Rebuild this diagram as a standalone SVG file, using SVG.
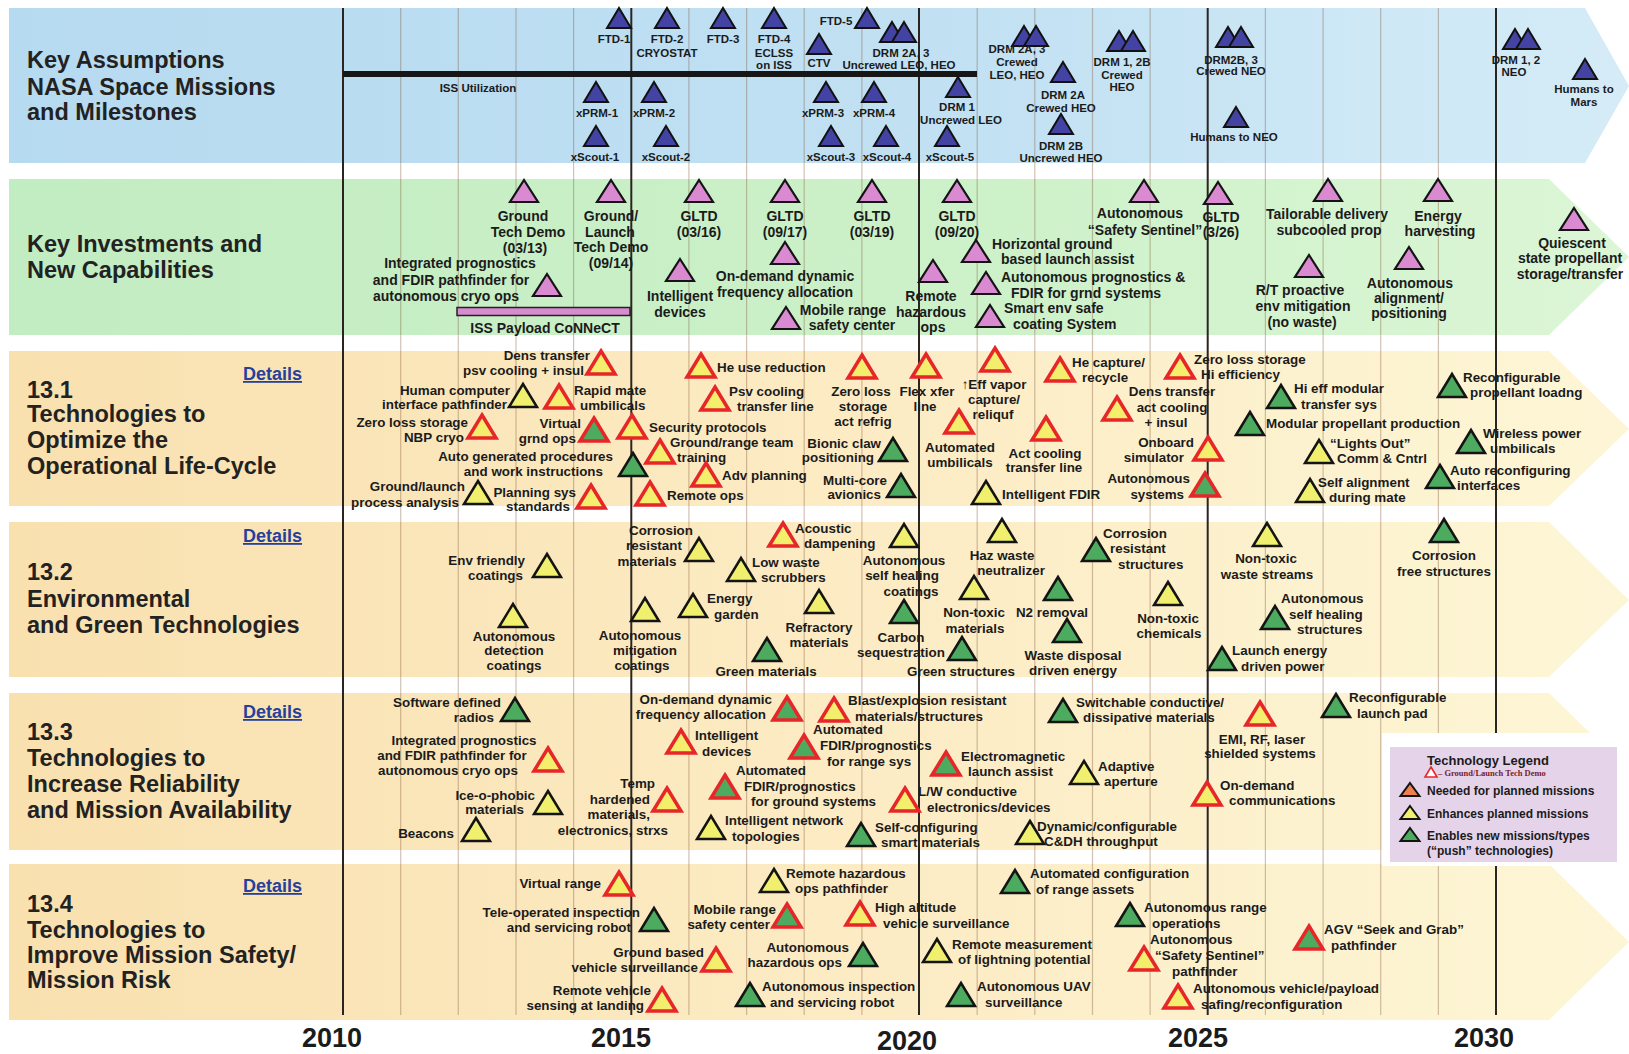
<svg xmlns="http://www.w3.org/2000/svg" xmlns:xlink="http://www.w3.org/1999/xlink" width="1629" height="1054" viewBox="0 0 1629 1054">
<defs>
  <linearGradient id="gBlue" x1="0" y1="0" x2="1" y2="0">
    <stop offset="0" stop-color="#b6daf0"/><stop offset="0.6" stop-color="#c2e1f3"/><stop offset="1" stop-color="#d5ecf7"/>
  </linearGradient>
  <linearGradient id="gGreen" x1="0" y1="0" x2="1" y2="0">
    <stop offset="0" stop-color="#c2ecc2"/><stop offset="0.6" stop-color="#cdf1c9"/><stop offset="1" stop-color="#dcf6d6"/>
  </linearGradient>
  <linearGradient id="gTan" x1="0" y1="0" x2="1" y2="0">
    <stop offset="0" stop-color="#f9e0af"/><stop offset="0.5" stop-color="#fcebc3"/><stop offset="1" stop-color="#fdf6d6"/>
  </linearGradient>
  <!-- marker shapes: base centred on (0,0), apex up -->
  <path id="tt" d="M0,-23 L14,0 L-14,0 Z"/>
  <path id="tb" d="M0,-20 L12,0 L-12,0 Z"/>
  <path id="tp" d="M0,-22 L14,0 L-14,0 Z"/>
  <path id="tl" d="M0,-13 L9.5,0 L-9.5,0 Z"/>
</defs>
<style>
  .t{font-family:'Liberation Sans',Arial,Helvetica,sans-serif;font-weight:bold;font-size:13.4px;fill:#1b1b1b}
  .s{font-size:11.5px}
  .p{font-size:14px}
  .e{text-anchor:end}
  .m{text-anchor:middle}
  .ttl{font-size:23.5px;fill:#222}
  .yr{font-size:27px;text-anchor:middle}
  .dt{font-size:18px;fill:#24419b;text-decoration:underline}
  .lg{font-size:12px}
  .ry{fill:#f3ee6b;stroke:#e62629;stroke-width:3.5}
  .rg{fill:#4dab60;stroke:#e62629;stroke-width:3.5}
  .yb{fill:#f1ef6e;stroke:#141414;stroke-width:2.5}
  .gb{fill:#4dab60;stroke:#141414;stroke-width:2.5}
  .bl{fill:#4343a3;stroke:#111;stroke-width:2}
  .pk{fill:#d98ad1;stroke:#141414;stroke-width:2.2}
  .thin{stroke:#7a5030;stroke-opacity:0.35;stroke-width:1.2}
  .main{stroke:#2b2521;stroke-width:2}
</style>
<rect width="1629" height="1054" fill="#ffffff"/>

<!-- swim-lane bands -->
<g id="bands">
  <path d="M9,8 H1585 L1629,86 L1585,163 H9 Z" fill="url(#gBlue)"/>
  <path d="M9,179 H1549 L1629,257 L1549,335 H9 Z" fill="url(#gGreen)"/>
  <path d="M9,351 H1549 L1629,429 L1549,506 H9 Z" fill="url(#gTan)"/>
  <path d="M9,522 H1549 L1629,600 L1549,677 H9 Z" fill="url(#gTan)"/>
  <path d="M9,693 H1549 L1629,771 L1549,850 H9 Z" fill="url(#gTan)"/>
  <path d="M9,864 H1549 L1629,942 L1549,1020 H9 Z" fill="url(#gTan)"/>
</g>

<!-- year grid -->
<g id="timeline-grid">
  <g class="thin">
    <line x1="400.7" y1="8" x2="400.7" y2="1015"/><line x1="458.3" y1="8" x2="458.3" y2="1015"/>
    <line x1="516" y1="8" x2="516" y2="1015"/><line x1="573.6" y1="8" x2="573.6" y2="1015"/>
    <line x1="688.9" y1="8" x2="688.9" y2="1015"/><line x1="746.6" y1="8" x2="746.6" y2="1015"/>
    <line x1="804.2" y1="8" x2="804.2" y2="1015"/><line x1="861.9" y1="8" x2="861.9" y2="1015"/>
    <line x1="977.2" y1="8" x2="977.2" y2="1015"/><line x1="1034.8" y1="8" x2="1034.8" y2="1015"/>
    <line x1="1092.5" y1="8" x2="1092.5" y2="1015"/><line x1="1150.1" y1="8" x2="1150.1" y2="1015"/>
    <line x1="1265.4" y1="8" x2="1265.4" y2="1015"/><line x1="1323.1" y1="8" x2="1323.1" y2="1015"/>
    <line x1="1380.7" y1="8" x2="1380.7" y2="1015"/><line x1="1438.4" y1="8" x2="1438.4" y2="1015"/>
  </g>
  <g class="main">
    <line x1="343" y1="8" x2="343" y2="1015"/><line x1="631.3" y1="8" x2="631.3" y2="1015"/>
    <line x1="919" y1="8" x2="919" y2="1015"/><line x1="1207.7" y1="8" x2="1207.7" y2="1015"/>
    <line x1="1496" y1="8" x2="1496" y2="1015"/>
  </g>
</g>

<!-- row titles -->
<g id="row-titles" class="t ttl">
  <text x="27" y="68">Key Assumptions</text>
  <text x="27" y="95">NASA Space Missions</text>
  <text x="27" y="120">and Milestones</text>
  <text x="27" y="252">Key Investments and</text>
  <text x="27" y="278">New Capabilities</text>
  <text x="27" y="398">13.1</text>
  <text x="27" y="422">Technologies  to</text>
  <text x="27" y="448">Optimize the</text>
  <text x="27" y="474">Operational Life-Cycle</text>
  <text x="27" y="580">13.2</text>
  <text x="27" y="607">Environmental</text>
  <text x="27" y="633">and Green Technologies</text>
  <text x="27" y="740">13.3</text>
  <text x="27" y="766">Technologies to</text>
  <text x="27" y="792">Increase Reliability</text>
  <text x="27" y="818">and Mission Availability</text>
  <text x="27" y="912">13.4</text>
  <text x="27" y="938">Technologies to</text>
  <text x="27" y="963">Improve Mission Safety/</text>
  <text x="27" y="988">Mission Risk</text>
</g>
<g id="details-links" class="t dt">
  <text x="243" y="380">Details</text>
  <text x="243" y="542">Details</text>
  <text x="243" y="718">Details</text>
  <text x="243" y="892">Details</text>
</g>
<g id="year-labels" class="t yr">
  <text x="332" y="1047">2010</text>
  <text x="621" y="1047">2015</text>
  <text x="907" y="1050">2020</text>
  <text x="1198" y="1047">2025</text>
  <text x="1484" y="1047">2030</text>
</g>

<!-- missions and milestones -->
<g id="missions" class="t s m">
  <g id="iss-utilization"><line x1="343" y1="74" x2="977" y2="74" stroke="#161616" stroke-width="6"/><text x="478" y="92">ISS Utilization</text></g>
  <g id="ftd-1"><use href="#tb" class="bl" x="619" y="28"/><text x="614" y="43">FTD-1</text></g>
  <g id="ftd-2"><use href="#tb" class="bl" x="667" y="28"/><text x="667" y="43">FTD-2</text><text x="667" y="57">CRYOSTAT</text></g>
  <g id="ftd-3"><use href="#tb" class="bl" x="723" y="28"/><text x="723" y="43">FTD-3</text></g>
  <g id="ftd-4"><use href="#tb" class="bl" x="774" y="28"/><text x="774" y="43">FTD-4</text><text x="774" y="57">ECLSS</text><text x="774" y="69">on ISS</text></g>
  <g id="ftd-5"><use href="#tb" class="bl" x="867" y="28"/><text x="836" y="25">FTD-5</text></g>
  <g id="ctv"><use href="#tb" class="bl" x="819" y="54"/><text x="819" y="67">CTV</text></g>
  <g id="drm-2a3-uncrewed"><use href="#tb" class="bl" x="892" y="42"/><use href="#tb" class="bl" x="904" y="42"/><text x="901" y="57">DRM 2A, 3</text><text x="899" y="69">Uncrewed LEO, HEO</text></g>
  <g id="xprm-1"><use href="#tb" class="bl" x="596" y="102"/><text x="597" y="117">xPRM-1</text></g>
  <g id="xprm-2"><use href="#tb" class="bl" x="654" y="102"/><text x="654" y="117">xPRM-2</text></g>
  <g id="xprm-3"><use href="#tb" class="bl" x="826" y="102"/><text x="823" y="117">xPRM-3</text></g>
  <g id="xprm-4"><use href="#tb" class="bl" x="874" y="102"/><text x="874" y="117">xPRM-4</text></g>
  <g id="drm-1-uncrewed"><use href="#tb" class="bl" x="958" y="97"/><text x="957" y="111">DRM 1</text><text x="961" y="124">Uncrewed LEO</text></g>
  <g id="xscout-1"><use href="#tb" class="bl" x="596" y="146"/><text x="595" y="161">xScout-1</text></g>
  <g id="xscout-2"><use href="#tb" class="bl" x="666" y="146"/><text x="666" y="161">xScout-2</text></g>
  <g id="xscout-3"><use href="#tb" class="bl" x="831" y="146"/><text x="831" y="161">xScout-3</text></g>
  <g id="xscout-4"><use href="#tb" class="bl" x="886" y="146"/><text x="887" y="161">xScout-4</text></g>
  <g id="xscout-5"><use href="#tb" class="bl" x="947" y="146"/><text x="950" y="161">xScout-5</text></g>
  <g id="drm-2a3-crewed"><use href="#tb" class="bl" x="1024" y="46"/><use href="#tb" class="bl" x="1036" y="46"/><text x="1017" y="53">DRM 2A, 3</text><text x="1017" y="66">Crewed</text><text x="1017" y="79">LEO, HEO</text></g>
  <g id="drm-2a-crewed"><use href="#tb" class="bl" x="1063" y="82"/><text x="1063" y="99">DRM 2A</text><text x="1061" y="112">Crewed HEO</text></g>
  <g id="drm-2b-uncrewed"><use href="#tb" class="bl" x="1061" y="134"/><text x="1061" y="150">DRM 2B</text><text x="1061" y="162">Uncrewed HEO</text></g>
  <g id="drm-12b-crewed"><use href="#tb" class="bl" x="1119" y="51"/><use href="#tb" class="bl" x="1133" y="51"/><text x="1122" y="66">DRM 1, 2B</text><text x="1122" y="79">Crewed</text><text x="1122" y="91">HEO</text></g>
  <g id="drm-2b3-neo"><use href="#tb" class="bl" x="1228" y="47"/><use href="#tb" class="bl" x="1241" y="47"/><text x="1231" y="64">DRM2B, 3</text><text x="1231" y="75">Crewed NEO</text></g>
  <g id="humans-neo"><use href="#tb" class="bl" x="1236" y="127"/><text x="1234" y="141">Humans to NEO</text></g>
  <g id="drm-12-neo"><use href="#tb" class="bl" x="1515" y="49"/><use href="#tb" class="bl" x="1528" y="49"/><text x="1516" y="64">DRM 1, 2</text><text x="1514" y="76">NEO</text></g>
  <g id="humans-mars"><use href="#tb" class="bl" x="1585" y="79"/><text x="1584" y="93">Humans to</text><text x="1584" y="106">Mars</text></g>
</g>

<!-- key investments -->
<g id="investments" class="t p m">
  <g id="iss-payload-connect"><rect x="457" y="307.5" width="173" height="8" fill="#d78ccf" stroke="#222" stroke-width="1.5"/><text x="545" y="333">ISS Payload CoNNeCT</text></g>
  <g id="ground-tech-demo"><use href="#tp" class="pk" x="524" y="202"/><text x="523" y="221">Ground</text><text x="528" y="237">Tech Demo</text><text x="525" y="253">(03/13)</text></g>
  <g id="ground-launch-demo"><use href="#tp" class="pk" x="611" y="202"/><text x="611" y="221">Ground/</text><text x="610" y="237">Launch</text><text x="611" y="252">Tech Demo</text><text x="611" y="268">(09/14)</text></g>
  <g id="gltd-0316"><use href="#tp" class="pk" x="699" y="202"/><text x="699" y="221">GLTD</text><text x="699" y="237">(03/16)</text></g>
  <g id="gltd-0917"><use href="#tp" class="pk" x="785" y="202"/><text x="785" y="221">GLTD</text><text x="785" y="237">(09/17)</text></g>
  <g id="gltd-0319"><use href="#tp" class="pk" x="872" y="202"/><text x="872" y="221">GLTD</text><text x="872" y="237">(03/19)</text></g>
  <g id="gltd-0920"><use href="#tp" class="pk" x="957" y="202"/><text x="957" y="221">GLTD</text><text x="957" y="237">(09/20)</text></g>
  <g id="safety-sentinel"><use href="#tp" class="pk" x="1144" y="202"/><text x="1140" y="218">Autonomous</text><text x="1145" y="235">“Safety Sentinel”</text></g>
  <g id="gltd-0326"><use href="#tp" class="pk" x="1218" y="204"/><text x="1221" y="222">GLTD</text><text x="1221" y="237">(3/26)</text></g>
  <g id="tailorable-delivery"><use href="#tp" class="pk" x="1328" y="201"/><text x="1327" y="219">Tailorable delivery</text><text x="1329" y="235">subcooled prop</text></g>
  <g id="energy-harvesting"><use href="#tp" class="pk" x="1438" y="201"/><text x="1438" y="221">Energy</text><text x="1440" y="236">harvesting</text></g>
  <g id="quiescent-storage"><use href="#tp" class="pk" x="1574" y="230"/><text x="1572" y="248">Quiescent</text><text x="1570" y="263">state propellant</text><text x="1570" y="279">storage/transfer</text></g>
  <g id="integrated-prognostics"><use href="#tp" class="pk" x="547" y="296"/><text x="460" y="268">Integrated prognostics</text><text x="451" y="285">and FDIR pathfinder for</text><text x="446" y="301">autonomous cryo ops</text></g>
  <g id="intelligent-devices"><use href="#tp" class="pk" x="680" y="281"/><text x="680" y="301">Intelligent</text><text x="680" y="317">devices</text></g>
  <g id="on-demand-frequency"><use href="#tp" class="pk" x="785" y="264"/><text x="785" y="281">On-demand dynamic</text><text x="785" y="297">frequency allocation</text></g>
  <g id="mobile-range-center"><use href="#tp" class="pk" x="786" y="329"/><text x="843" y="315">Mobile range</text><text x="852" y="330">safety center</text></g>
  <g id="remote-hazardous-ops"><use href="#tp" class="pk" x="933" y="282"/><text x="931" y="301">Remote</text><text x="931" y="317">hazardous</text><text x="933" y="332">ops</text></g>
  <g id="horizontal-launch"><use href="#tp" class="pk" x="976" y="262"/><text x="992" y="249" style="text-anchor:start">Horizontal ground</text><text x="1001" y="264" style="text-anchor:start">based launch assist</text></g>
  <g id="auto-prognostics"><use href="#tp" class="pk" x="986" y="294"/><text x="1001" y="282" style="text-anchor:start">Autonomous prognostics &amp;</text><text x="1011" y="298" style="text-anchor:start">FDIR for grnd systems</text></g>
  <g id="smart-env-coating"><use href="#tp" class="pk" x="990" y="327"/><text x="1004" y="313" style="text-anchor:start">Smart env safe</text><text x="1013" y="329" style="text-anchor:start">coating System</text></g>
  <g id="rt-proactive"><use href="#tp" class="pk" x="1309" y="277"/><text x="1300" y="295">R/T proactive</text><text x="1303" y="311">env  mitigation</text><text x="1302" y="327">(no waste)</text></g>
  <g id="auto-alignment"><use href="#tp" class="pk" x="1409" y="269"/><text x="1410" y="288">Autonomous</text><text x="1409" y="303">alignment/</text><text x="1409" y="318">positioning</text></g>
</g>

<!-- 13.1 operational life-cycle -->
<g id="tech-13-1" class="t">
  <g id="dens-transfer-psv"><use href="#tt" class="ry" x="601" y="374"/><text class="e" x="590" y="360">Dens transfer</text><text class="e" x="584" y="375">psv cooling + insul</text></g>
  <g id="he-use-reduction"><use href="#tt" class="ry" x="701" y="377"/><text x="717" y="372">He use reduction</text></g>
  <g id="rapid-mate"><use href="#tt" class="ry" x="559" y="408"/><text x="574" y="395">Rapid mate</text><text x="580" y="410">umbilicals</text></g>
  <g id="psv-cooling-line"><use href="#tt" class="ry" x="715" y="410"/><text x="729" y="396">Psv cooling</text><text x="737" y="411">transfer line</text></g>
  <g id="zero-loss-refrig"><use href="#tt" class="ry" x="862" y="378"/><text class="m" x="861" y="396">Zero loss</text><text class="m" x="863" y="411">storage</text><text class="m" x="863" y="426">act refrig</text></g>
  <g id="flex-xfer"><use href="#tt" class="ry" x="926" y="377"/><text class="m" x="927" y="396">Flex xfer</text><text class="m" x="925" y="411">line</text></g>
  <g id="eff-vapor"><use href="#tt" class="ry" x="995" y="371"/><text class="m" x="994" y="389">↑Eff vapor</text><text class="m" x="994" y="404">capture/</text><text class="m" x="993" y="419">reliquf</text></g>
  <g id="he-capture"><use href="#tt" class="ry" x="1060" y="381"/><text x="1072" y="367">He capture/</text><text x="1082" y="382">recycle</text></g>
  <g id="security-protocols"><use href="#tt" class="ry" x="632" y="438"/><text x="649" y="432">Security protocols</text></g>
  <g id="virtual-grnd-ops"><use href="#tt" class="rg" x="594" y="441"/><text class="e" x="581" y="428">Virtual</text><text class="e" x="576" y="443">grnd ops</text></g>
  <g id="range-team-training"><use href="#tt" class="ry" x="660" y="463"/><text x="670" y="447">Ground/range team</text><text x="677" y="462">training</text></g>
  <g id="auto-procedures"><use href="#tt" class="gb" x="633" y="476"/><text class="e" x="613" y="461">Auto generated procedures</text><text class="e" x="603" y="476">and work instructions</text></g>
  <g id="adv-planning"><use href="#tt" class="ry" x="706" y="486"/><text x="722" y="480">Adv planning</text></g>
  <g id="remote-ops"><use href="#tt" class="ry" x="650" y="505"/><text x="667" y="500">Remote ops</text></g>
  <g id="planning-standards"><use href="#tt" class="ry" x="591" y="508"/><text class="e" x="576" y="497">Planning sys</text><text class="e" x="570" y="511">standards</text></g>
  <g id="bionic-claw"><use href="#tt" class="gb" x="893" y="461"/><text class="e" x="881" y="448">Bionic claw</text><text class="e" x="874" y="462">positioning</text></g>
  <g id="multi-core"><use href="#tt" class="gb" x="901" y="497"/><text class="e" x="887" y="485">Multi-core</text><text class="e" x="881" y="499">avionics</text></g>
  <g id="automated-umbilicals"><use href="#tt" class="ry" x="959" y="433"/><text class="m" x="960" y="452">Automated</text><text class="m" x="960" y="467">umbilicals</text></g>
  <g id="act-cooling-line"><use href="#tt" class="ry" x="1046" y="440"/><text class="m" x="1045" y="458">Act cooling</text><text class="m" x="1044" y="472">transfer line</text></g>
  <g id="intelligent-fdir"><use href="#tt" class="yb" x="986" y="504"/><text x="1002" y="499">Intelligent FDIR</text></g>
  <g id="hci-pathfinder"><use href="#tt" class="yb" x="523" y="407"/><text class="e" x="510" y="395">Human computer</text><text class="e" x="507" y="409">interface pathfinder</text></g>
  <g id="zero-loss-nbp"><use href="#tt" class="ry" x="482" y="438"/><text class="e" x="468" y="427">Zero loss storage</text><text class="e" x="464" y="442">NBP cryo</text></g>
  <g id="process-analysis"><use href="#tt" class="yb" x="478" y="504"/><text class="e" x="465" y="491">Ground/launch</text><text class="e" x="459" y="507">process analysis</text></g>
  <g id="zero-loss-hi-eff"><use href="#tt" class="ry" x="1180" y="378"/><text x="1194" y="364">Zero loss storage</text><text x="1201" y="379">Hi efficiency</text></g>
  <g id="dens-transfer-act"><use href="#tt" class="ry" x="1117" y="420"/><text class="m" x="1172" y="396">Dens transfer</text><text class="m" x="1172" y="412">act cooling</text><text class="m" x="1166" y="427">+ insul</text></g>
  <g id="hi-eff-modular"><use href="#tt" class="gb" x="1281" y="408"/><text x="1294" y="393">Hi eff modular</text><text x="1301" y="409">transfer sys</text></g>
  <g id="modular-propellant"><use href="#tt" class="gb" x="1250" y="435"/><text x="1266" y="428">Modular propellant production</text></g>
  <g id="onboard-simulator"><use href="#tt" class="ry" x="1208" y="460"/><text class="e" x="1194" y="447">Onboard</text><text class="e" x="1184" y="462">simulator</text></g>
  <g id="autonomous-systems"><use href="#tt" class="rg" x="1205" y="496"/><text class="e" x="1190" y="483">Autonomous</text><text class="e" x="1184" y="499">systems</text></g>
  <g id="lights-out"><use href="#tt" class="yb" x="1319" y="463"/><text x="1330" y="448">“Lights Out”</text><text x="1337" y="463">Comm &amp; Cntrl</text></g>
  <g id="self-alignment"><use href="#tt" class="yb" x="1310" y="502"/><text x="1318" y="487">Self alignment</text><text x="1329" y="502">during mate</text></g>
  <g id="reconfig-loading"><use href="#tt" class="gb" x="1452" y="397"/><text x="1463" y="382">Reconfigurable</text><text x="1470" y="397">propellant loadng</text></g>
  <g id="wireless-power"><use href="#tt" class="gb" x="1471" y="453"/><text x="1483" y="438">Wireless power</text><text x="1490" y="453">umbilicals</text></g>
  <g id="auto-reconfig-interfaces"><use href="#tt" class="gb" x="1440" y="488"/><text x="1450" y="475">Auto reconfiguring</text><text x="1457" y="490">interfaces</text></g>
</g>

<!-- 13.2 environmental and green -->
<g id="tech-13-2" class="t">
  <g id="env-friendly"><use href="#tt" class="yb" x="547" y="577"/><text class="e" x="525" y="565">Env friendly</text><text class="e" x="523" y="580">coatings</text></g>
  <g id="auto-detection"><use href="#tt" class="yb" x="513" y="627"/><text class="m" x="514" y="641">Autonomous</text><text class="m" x="514" y="655">detection</text><text class="m" x="514" y="670">coatings</text></g>
  <g id="corrosion-materials"><use href="#tt" class="yb" x="699" y="561"/><text class="m" x="661" y="535">Corrosion</text><text class="m" x="654" y="550">resistant</text><text class="m" x="647" y="566">materials</text></g>
  <g id="acoustic-dampening"><use href="#tt" class="ry" x="783" y="546"/><text x="795" y="533">Acoustic</text><text x="804" y="548">dampening</text></g>
  <g id="self-healing-coatings"><use href="#tt" class="yb" x="904" y="547"/><text class="m" x="904" y="565">Autonomous</text><text class="m" x="902" y="580">self healing</text><text class="m" x="911" y="596">coatings</text></g>
  <g id="low-waste-scrubbers"><use href="#tt" class="yb" x="741" y="581"/><text x="752" y="567">Low waste</text><text x="761" y="582">scrubbers</text></g>
  <g id="haz-waste"><use href="#tt" class="yb" x="1002" y="542"/><text class="m" x="1002" y="560">Haz waste</text><text class="m" x="1011" y="575">neutralizer</text></g>
  <g id="corrosion-structures"><use href="#tt" class="gb" x="1096" y="561"/><text x="1103" y="538">Corrosion</text><text x="1110" y="553">resistant</text><text x="1118" y="569">structures</text></g>
  <g id="energy-garden"><use href="#tt" class="yb" x="693" y="617"/><text x="707" y="603">Energy</text><text x="714" y="619">garden</text></g>
  <g id="auto-mitigation"><use href="#tt" class="yb" x="645" y="621"/><text class="m" x="640" y="640">Autonomous</text><text class="m" x="645" y="655">mitigation</text><text class="m" x="642" y="670">coatings</text></g>
  <g id="refractory"><use href="#tt" class="yb" x="819" y="613"/><text class="m" x="819" y="632">Refractory</text><text class="m" x="819" y="647">materials</text></g>
  <g id="green-materials"><use href="#tt" class="gb" x="767" y="661"/><text class="m" x="766" y="676">Green materials</text></g>
  <g id="carbon-sequestration"><use href="#tt" class="gb" x="904" y="623"/><text class="m" x="901" y="642">Carbon</text><text class="m" x="901" y="657">sequestration</text></g>
  <g id="green-structures"><use href="#tt" class="gb" x="962" y="660"/><text class="m" x="961" y="676">Green structures</text></g>
  <g id="nontoxic-materials"><use href="#tt" class="yb" x="974" y="599"/><text class="m" x="974" y="617">Non-toxic</text><text class="m" x="975" y="633">materials</text></g>
  <g id="n2-removal"><use href="#tt" class="gb" x="1058" y="600"/><text class="m" x="1052" y="617">N2 removal</text></g>
  <g id="waste-disposal"><use href="#tt" class="gb" x="1067" y="642"/><text class="m" x="1073" y="660">Waste disposal</text><text class="m" x="1073" y="675">driven energy</text></g>
  <g id="nontoxic-chemicals"><use href="#tt" class="yb" x="1168" y="605"/><text class="m" x="1168" y="623">Non-toxic</text><text class="m" x="1169" y="638">chemicals</text></g>
  <g id="nontoxic-waste"><use href="#tt" class="yb" x="1267" y="546"/><text class="m" x="1266" y="563">Non-toxic</text><text class="m" x="1267" y="579">waste streams</text></g>
  <g id="self-healing-structures"><use href="#tt" class="gb" x="1275" y="629"/><text x="1281" y="603">Autonomous</text><text x="1289" y="619">self healing</text><text x="1297" y="634">structures</text></g>
  <g id="launch-energy"><use href="#tt" class="gb" x="1222" y="670"/><text x="1232" y="655">Launch energy</text><text x="1241" y="671">driven power</text></g>
  <g id="corrosion-free"><use href="#tt" class="gb" x="1444" y="542"/><text class="m" x="1444" y="560">Corrosion</text><text class="m" x="1444" y="576">free structures</text></g>
</g>

<!-- legend sits on a white panel over the 13.3 lane -->
<g id="legend">
  <rect x="1382" y="733" width="247" height="133" fill="#ffffff"/>
  <rect x="1390" y="747" width="227" height="115" fill="#e5d3ea"/>
  <text class="t" x="1427" y="765" style="font-size:13px">Technology Legend</text>
  <path d="M1431,767 L1437,777 L1425,777 Z" fill="#ffffff" stroke="#e62629" stroke-width="1.6"/>
  <text x="1438" y="776" style="font-family:'Liberation Serif','Times New Roman',serif;font-weight:bold;font-size:8.5px;fill:#7a1c28">– Ground/Launch Tech Demo</text>
  <use href="#tl" x="1410" y="796" fill="#ef7f4f" stroke="#141414" stroke-width="2"/>
  <text class="t lg" x="1427" y="795">Needed for planned missions</text>
  <use href="#tl" x="1410" y="819" class="yb" style="stroke-width:2"/>
  <text class="t lg" x="1427" y="818">Enhances planned missions</text>
  <use href="#tl" x="1410" y="841" class="gb" style="stroke-width:2"/>
  <text class="t lg" x="1427" y="840">Enables new missions/types</text>
  <text class="t lg" x="1427" y="855">(“push” technologies)</text>
</g>

<!-- 13.3 reliability and availability -->
<g id="tech-13-3" class="t">
  <g id="software-radios"><use href="#tt" class="gb" x="515" y="721"/><text class="e" x="501" y="707">Software defined</text><text class="e" x="494" y="722">radios</text></g>
  <g id="integrated-fdir"><use href="#tt" class="ry" x="548" y="771"/><text class="m" x="464" y="745">Integrated prognostics</text><text class="m" x="452" y="760">and FDIR pathfinder for</text><text class="m" x="448" y="775">autonomous cryo ops</text></g>
  <g id="ice-o-phobic"><use href="#tt" class="yb" x="548" y="814"/><text class="e" x="535" y="800">Ice-o-phobic</text><text class="e" x="524" y="814">materials</text></g>
  <g id="beacons"><use href="#tt" class="yb" x="476" y="841"/><text class="e" x="454" y="838">Beacons</text></g>
  <g id="on-demand-dynamic"><use href="#tt" class="rg" x="787" y="720"/><text class="e" x="772" y="704">On-demand dynamic</text><text class="e" x="766" y="719">frequency allocation</text></g>
  <g id="blast-resistant"><use href="#tt" class="ry" x="834" y="721"/><text x="848" y="705">Blast/explosion resistant</text><text x="855" y="721">materials/structures</text></g>
  <g id="switchable-conductive"><use href="#tt" class="gb" x="1063" y="722"/><text x="1076" y="707">Switchable conductive/</text><text x="1083" y="722">dissipative materials</text></g>
  <g id="intelligent-devices-2"><use href="#tt" class="ry" x="681" y="753"/><text x="695" y="740">Intelligent</text><text x="702" y="756">devices</text></g>
  <g id="fdir-range"><use href="#tt" class="rg" x="804" y="758"/><text x="813" y="734">Automated</text><text x="820" y="750">FDIR/prognostics</text><text x="827" y="766">for range sys</text></g>
  <g id="em-launch-assist"><use href="#tt" class="rg" x="946" y="775"/><text x="961" y="761">Electromagnetic</text><text x="968" y="776">launch assist</text></g>
  <g id="adaptive-aperture"><use href="#tt" class="yb" x="1084" y="784"/><text x="1098" y="771">Adaptive</text><text x="1104" y="786">aperture</text></g>
  <g id="fdir-ground"><use href="#tt" class="rg" x="725" y="798"/><text x="736" y="775">Automated</text><text x="744" y="791">FDIR/prognostics</text><text x="751" y="806">for ground systems</text></g>
  <g id="temp-hardened"><use href="#tt" class="ry" x="667" y="811"/><text class="e" x="655" y="788">Temp</text><text class="e" x="650" y="804">hardened</text><text class="e" x="650" y="819">materials,</text><text class="e" x="668" y="835">electronics, strxs</text></g>
  <g id="lw-conductive"><use href="#tt" class="ry" x="905" y="811"/><text x="918" y="796">L/W conductive</text><text x="927" y="812">electronics/devices</text></g>
  <g id="network-topologies"><use href="#tt" class="yb" x="711" y="839"/><text x="725" y="825">Intelligent  network</text><text x="732" y="841">topologies</text></g>
  <g id="self-configuring"><use href="#tt" class="gb" x="861" y="846"/><text x="875" y="832">Self-configuring</text><text x="881" y="847">smart materials</text></g>
  <g id="cdh-throughput"><use href="#tt" class="yb" x="1030" y="844"/><text x="1037" y="831">Dynamic/configurable</text><text x="1044" y="846">C&amp;DH throughput</text></g>
  <g id="emi-shielded"><use href="#tt" class="ry" x="1260" y="725"/><text class="m" x="1262" y="744">EMI, RF, laser</text><text class="m" x="1260" y="758">shielded systems</text></g>
  <g id="reconfig-pad"><use href="#tt" class="gb" x="1336" y="717"/><text x="1349" y="702">Reconfigurable</text><text x="1357" y="718">launch pad</text></g>
  <g id="on-demand-comms"><use href="#tt" class="ry" x="1207" y="805"/><text x="1220" y="790">On-demand</text><text x="1229" y="805">communications</text></g>
</g>

<!-- 13.4 safety and mission risk -->
<g id="tech-13-4" class="t">
  <g id="virtual-range"><use href="#tt" class="ry" x="619" y="895"/><text class="e" x="601" y="888">Virtual range</text></g>
  <g id="teleop-robot"><use href="#tt" class="gb" x="654" y="931"/><text class="e" x="640" y="917">Tele-operated inspection</text><text class="e" x="631" y="932">and servicing robot</text></g>
  <g id="ground-vehicle-surv"><use href="#tt" class="ry" x="716" y="971"/><text class="e" x="704" y="957">Ground based</text><text class="e" x="698" y="972">vehicle surveillance</text></g>
  <g id="remote-vehicle-sensing"><use href="#tt" class="ry" x="662" y="1011"/><text class="e" x="651" y="995">Remote vehicle</text><text class="e" x="644" y="1010">sensing at landing</text></g>
  <g id="hazardous-pathfinder"><use href="#tt" class="yb" x="774" y="892"/><text x="786" y="878">Remote hazardous</text><text x="795" y="893">ops pathfinder</text></g>
  <g id="mobile-range-2"><use href="#tt" class="rg" x="787" y="927"/><text class="e" x="776" y="914">Mobile range</text><text class="e" x="770" y="929">safety center</text></g>
  <g id="auto-hazardous-ops"><use href="#tt" class="gb" x="863" y="966"/><text class="e" x="849" y="952">Autonomous</text><text class="e" x="842" y="967">hazardous ops</text></g>
  <g id="auto-inspection-robot"><use href="#tt" class="gb" x="750" y="1006"/><text x="762" y="991">Autonomous inspection</text><text x="770" y="1007">and servicing robot</text></g>
  <g id="high-altitude"><use href="#tt" class="ry" x="860" y="925"/><text x="875" y="912">High altitude</text><text x="883" y="928">vehicle surveillance</text></g>
  <g id="lightning-potential"><use href="#tt" class="yb" x="937" y="962"/><text x="952" y="949">Remote measurement</text><text x="958" y="964">of lightning potential</text></g>
  <g id="auto-uav"><use href="#tt" class="gb" x="961" y="1006"/><text x="977" y="991">Autonomous UAV</text><text x="985" y="1007">surveillance</text></g>
  <g id="auto-config-range"><use href="#tt" class="gb" x="1015" y="893"/><text x="1030" y="878">Automated configuration</text><text x="1036" y="894">of range assets</text></g>
  <g id="auto-range-ops"><use href="#tt" class="gb" x="1130" y="926"/><text x="1144" y="912">Autonomous range</text><text x="1152" y="928">operations</text></g>
  <g id="sentinel-pathfinder"><use href="#tt" class="ry" x="1144" y="970"/><text x="1150" y="944">Autonomous</text><text x="1155" y="960">“Safety Sentinel”</text><text x="1172" y="976">pathfinder</text></g>
  <g id="vehicle-safing"><use href="#tt" class="ry" x="1178" y="1008"/><text x="1193" y="993">Autonomous vehicle/payload</text><text x="1201" y="1009">safing/reconfiguration</text></g>
  <g id="agv-seek-grab"><use href="#tt" class="rg" x="1309" y="949"/><text x="1324" y="934">AGV “Seek and Grab”</text><text x="1331" y="950">pathfinder</text></g>
</g>
</svg>
